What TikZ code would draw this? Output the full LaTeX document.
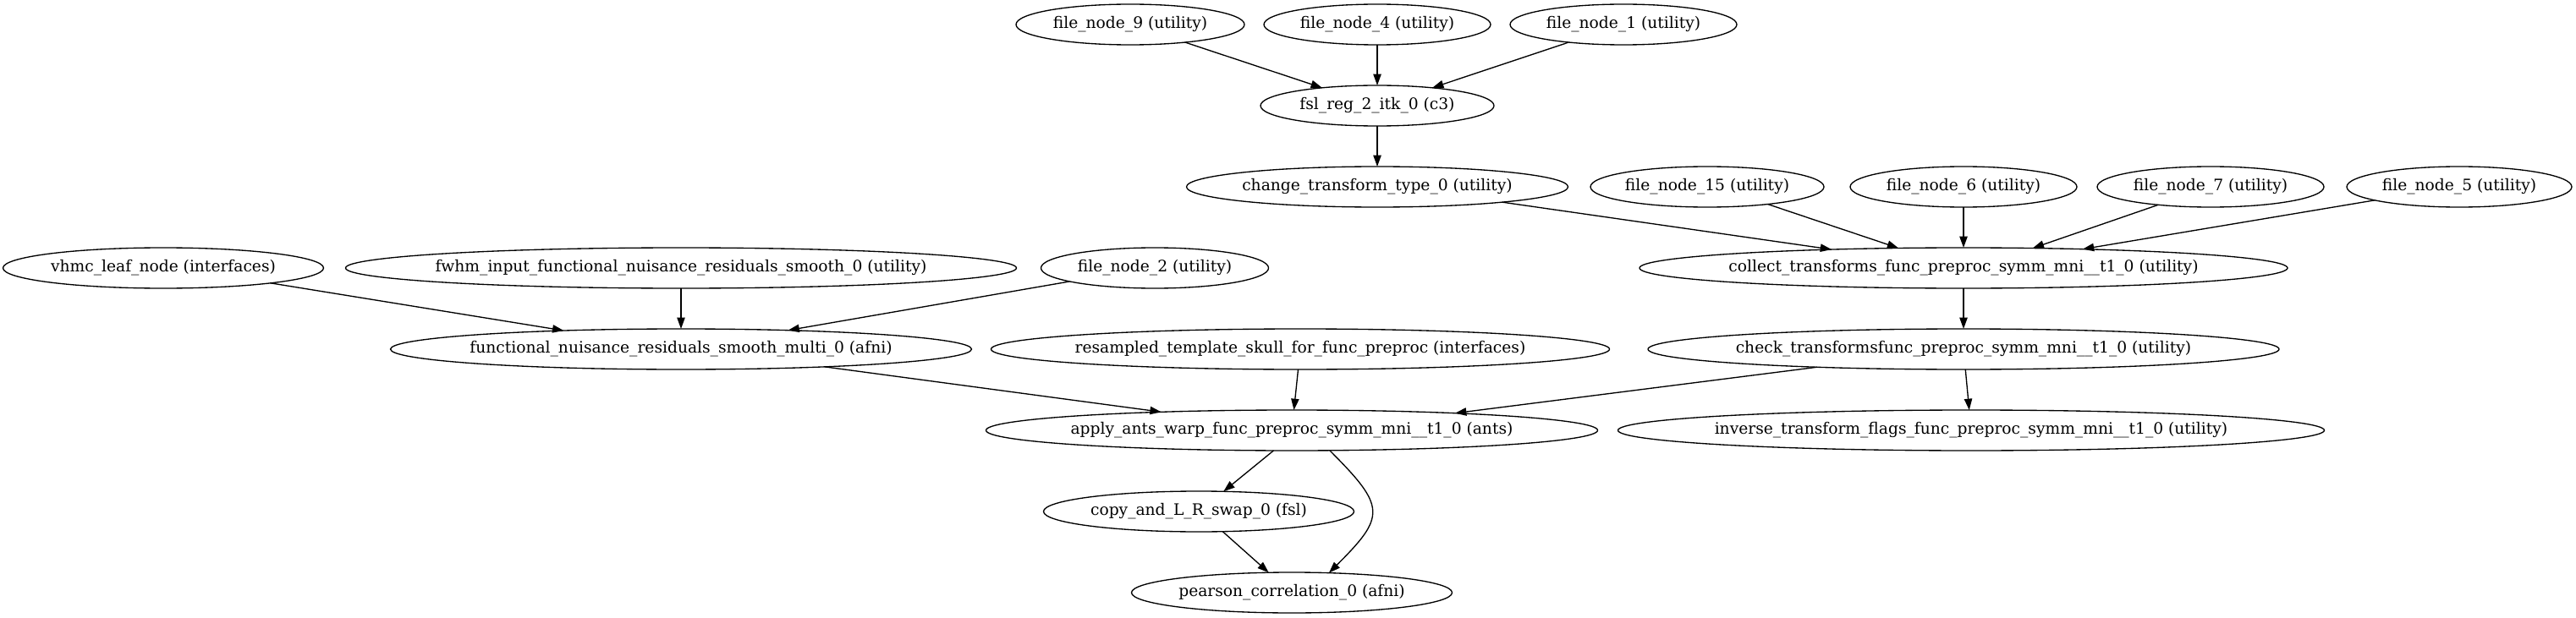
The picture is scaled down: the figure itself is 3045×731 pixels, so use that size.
\documentclass[tikz,border=0pt]{standalone}
\usepackage{fontspec}
\setmainfont{DejaVu Serif}
\usetikzlibrary{arrows.meta,shapes.geometric}
\begin{document}
\begin{tikzpicture}[x=0.75pt,y=-0.75pt,
  gnode/.style={ellipse,draw,line width=1pt,inner sep=0pt,outer sep=0pt,
    minimum height=36pt,font=\fontsize{14}{16}\selectfont},
  edge/.style={-{Triangle[length=10pt,width=7pt]},line width=1pt}]
\useasboundingbox (0,0) rectangle (3045,731);
% row 0
\node[gnode,minimum width=202.5pt] (f9) at (1336,29) {\makebox[0pt]{file\_node\_9 (utility)}};
\node[gnode,minimum width=201pt] (f4) at (1628,29) {\makebox[0pt]{file\_node\_4 (utility)}};
\node[gnode,minimum width=201pt] (f1) at (1919,29) {\makebox[0pt]{file\_node\_1 (utility)}};
% row 1
\node[gnode,minimum width=207pt] (fsl) at (1628,125) {\makebox[0pt]{fsl\_reg\_2\_itk\_0 (c3)}};
% row 2
\node[gnode,minimum width=338.25pt] (chg) at (1628,221) {\makebox[0pt]{change\_transform\_type\_0 (utility)}};
\node[gnode,minimum width=207pt] (f15) at (2018,221) {\makebox[0pt]{file\_node\_15 (utility)}};
\node[gnode,minimum width=201pt] (f6) at (2321,221) {\makebox[0pt]{file\_node\_6 (utility)}};
\node[gnode,minimum width=201pt] (f7) at (2613,221) {\makebox[0pt]{file\_node\_7 (utility)}};
\node[gnode,minimum width=199.5pt] (f5) at (2907,221) {\makebox[0pt]{file\_node\_5 (utility)}};
% row 3
\node[gnode,minimum width=284.25pt] (vhmc) at (193,317) {\makebox[0pt]{vhmc\_leaf\_node (interfaces)}};
\node[gnode,minimum width=594.75pt] (fwhm) at (805,317) {\makebox[0pt]{fwhm\_input\_functional\_nuisance\_residuals\_smooth\_0 (utility)}};
\node[gnode,minimum width=201.75pt] (f2) at (1365,317) {\makebox[0pt]{file\_node\_2 (utility)}};
\node[gnode,minimum width=574.5pt] (col) at (2321,317) {\makebox[0pt]{collect\_transforms\_func\_preproc\_symm\_mni\_\_t1\_0 (utility)}};
% row 4
\node[gnode,minimum width=515.25pt] (fun) at (805,413) {\makebox[0pt]{functional\_nuisance\_residuals\_smooth\_multi\_0 (afni)}};
\node[gnode,minimum width=548.25pt] (res) at (1537,413) {\makebox[0pt]{resampled\_template\_skull\_for\_func\_preproc (interfaces)}};
\node[gnode,minimum width=559.5pt] (chk) at (2321,413) {\makebox[0pt]{check\_transformsfunc\_preproc\_symm\_mni\_\_t1\_0 (utility)}};
% row 5
\node[gnode,minimum width=542.25pt] (app) at (1527,509) {\makebox[0pt]{apply\_ants\_warp\_func\_preproc\_symm\_mni\_\_t1\_0 (ants)}};
\node[gnode,minimum width=626.25pt] (inv) at (2330,509) {\makebox[0pt]{inverse\_transform\_flags\_func\_preproc\_symm\_mni\_\_t1\_0 (utility)}};
% row 6
\node[gnode,minimum width=275.25pt] (cpy) at (1417,605) {\makebox[0pt]{copy\_and\_L\_R\_swap\_0 (fsl)}};
% row 7
\node[gnode,minimum width=284.25pt] (prs) at (1527,701) {\makebox[0pt]{pearson\_correlation\_0 (afni)}};
% edges
\draw[edge] (f9.-18) -- (fsl.162);
\draw[edge] (f4) -- (fsl);
\draw[edge] (f1.198) -- (fsl.18);
\draw[edge] (fsl) -- (chg);
\draw[edge] (chg.-7.4) -- (col.172);
\draw[edge] (f15.-16) -- (col.163);
\draw[edge] (f6) -- (col);
\draw[edge] (f7.199) -- (col.16);
\draw[edge] (f5.189) -- (col.9);
\draw[edge] (vhmc.-8) -- (fun.171);
\draw[edge] (fwhm) -- (fun);
\draw[edge] (f2.189) -- (fun.10);
\draw[edge] (col) -- (chk);
\draw[edge] (fun.-7.2) -- (app.172.4);
\draw[edge] (res) -- (app);
\draw[edge] (chk.187) -- (app.6.5);
\draw[edge] (chk) -- (inv);
\draw[edge] (app.228) -- (cpy.39);
\draw[edge] (cpy.-40) -- (prs.139);
\draw[edge] (app.-28) .. controls +(67,67) and +(67,-67) .. (prs.28);
\end{tikzpicture}
\end{document}
